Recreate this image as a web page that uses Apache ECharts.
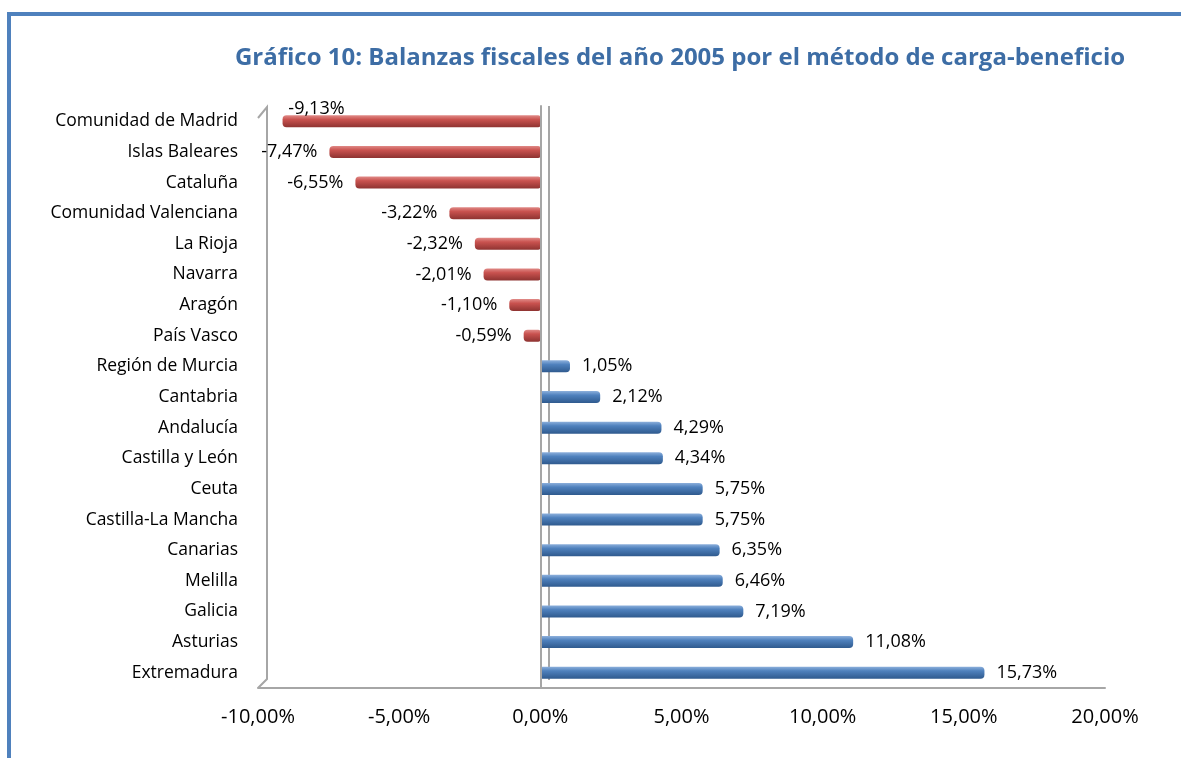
<!DOCTYPE html>
<html lang="es">
<head>
<meta charset="UTF-8">
<title>Balanzas fiscales 2005</title>
<script src="https://cdn.jsdelivr.net/npm/echarts@6/dist/echarts.min.js"></script>
<style>
  html, body { margin: 0; padding: 0; background: #fff; }
  #main { width: 1181px; height: 758px; }
</style>
</head>
<body>
<div id="main"></div>
<script>
// comunidades, de arriba a abajo
var regions = ['Comunidad de Madrid', 'Islas Baleares', 'Cataluña', 'Comunidad Valenciana',
  'La Rioja', 'Navarra', 'Aragón', 'País Vasco', 'Región de Murcia', 'Cantabria',
  'Andalucía', 'Castilla y León', 'Ceuta', 'Castilla-La Mancha', 'Canarias',
  'Melilla', 'Galicia', 'Asturias', 'Extremadura'];
// saldo fiscal en % del PIB
var balance = [-9.13, -7.47, -6.55, -3.22, -2.32, -2.01, -1.10, -0.59, 1.05, 2.12,
  4.29, 4.34, 5.75, 5.75, 6.35, 6.46, 7.19, 11.08, 15.73];
var ticks = [-10, -5, 0, 5, 10, 15, 20];

var fontFam = '"Open Sans", "Liberation Sans", sans-serif';

function pct(v, d) {
  return v.toFixed(d).replace('.', ',') + '%';
}

var redBar = new echarts.graphic.LinearGradient(0, 0, 0, 1, [
  { offset: 0, color: '#e08a87' },
  { offset: 0.35, color: '#c9524f' },
  { offset: 1, color: '#8e3331' }
]);
var blueBar = new echarts.graphic.LinearGradient(0, 0, 0, 1, [
  { offset: 0, color: '#8db0dc' },
  { offset: 0.35, color: '#4f81bd' },
  { offset: 1, color: '#2f5a8e' }
]);

var barData = balance.map(function (v, i) {
  var item = {
    value: v,
    itemStyle: { color: v < 0 ? redBar : blueBar, borderRadius: v < 0 ? [4, 2, 2, 4] : [2, 4, 4, 2] },
    label: { position: v < 0 ? 'left' : 'right' }
  };
  if (i === 0) {
    item.label = { position: 'left', offset: [74, -12] };
  }
  return item;
});

var myChart = echarts.init(document.getElementById('main'));
var option = {
  animation: false,
  title: {
    text: 'Gráfico 10: Balanzas fiscales del año 2005 por el método de carga-beneficio',
    left: 675,
    top: 41,
    textAlign: 'center',
    textStyle: { color: '#3d6da5', fontSize: 24, fontWeight: 'bold', fontFamily: fontFam }
  },
  grid: { left: 258, right: 76, top: 106, bottom: 70 },
  xAxis: {
    type: 'value',
    min: ticks[0],
    max: ticks[ticks.length - 1],
    interval: 5,
    splitLine: { show: false },
    axisTick: { show: false },
    axisLine: { show: true, lineStyle: { color: '#a6a6a6', width: 2 } },
    axisLabel: {
      margin: 19,
      color: '#000',
      fontSize: 20,
      fontFamily: fontFam,
      formatter: function (v) { return pct(v, 2); }
    }
  },
  yAxis: {
    type: 'category',
    inverse: true,
    data: regions,
    axisTick: { show: false },
    axisLine: { show: true, lineStyle: { color: '#a6a6a6', width: 2 } },
    axisLabel: { margin: 20, color: '#000', fontSize: 17.5, fontFamily: fontFam }
  },
  series: [{
    type: 'bar',
    data: barData,
    barWidth: 12,
    label: {
      show: true,
      distance: 12,
      color: '#000',
      fontSize: 18,
      fontFamily: fontFam,
      formatter: function (p) { return pct(p.value, 2); }
    },
    markLine: {
      silent: true,
      symbol: 'none',
      label: { show: false },
      lineStyle: { color: '#a6a6a6', width: 2, type: 'solid' },
      data: [{ xAxis: 0 }]
    }
  }],
  graphic: [
    // marco del gráfico
    { type: 'line', shape: { x1: 7, y1: 14, x2: 1181, y2: 14 }, style: { stroke: '#4f81bd', lineWidth: 4 } },
    { type: 'line', shape: { x1: 9, y1: 12, x2: 9, y2: 758 }, style: { stroke: '#4f81bd', lineWidth: 4 } },
    // pared 3D
    { type: 'polyline', shape: { points: [[258, 118], [267, 107], [267, 679], [258, 688]] },
      style: { stroke: '#a6a6a6', lineWidth: 2, fill: 'none' } },
    { type: 'line', shape: { x1: 549, y1: 106, x2: 549, y2: 680 }, style: { stroke: '#a6a6a6', lineWidth: 2 } }
  ]
};
myChart.setOption(option);
</script>
</body>
</html>
